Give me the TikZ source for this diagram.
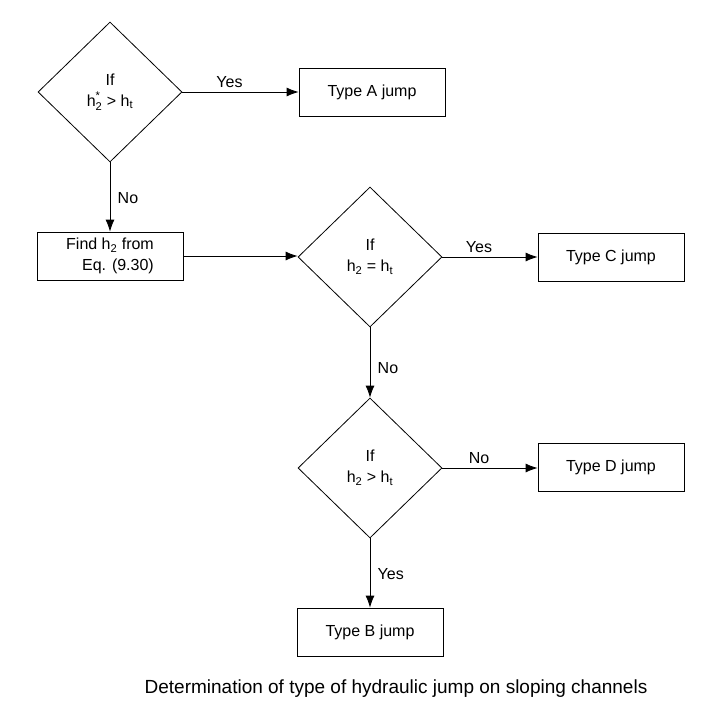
\documentclass[tikz,border=0pt]{standalone}
\usepackage{fontspec}
\usepackage{amsmath}
\setmainfont{Liberation Sans}
\usetikzlibrary{shapes.geometric,arrows.meta}
\newcommand{\lowidx}[1]{$_{\text{#1}}$}
\begin{document}
\begin{tikzpicture}[x=1pt, y=-1pt,
        font=\fontsize{16}{21}\selectfont,
        decision/.style={diamond, draw, line width=0.8pt, minimum width=144pt, minimum height=140pt, inner sep=0pt, align=center},
        result/.style={rectangle, draw, line width=0.8pt, minimum width=146pt, minimum height=48pt, align=center},
        flow/.style={draw, line width=0.8pt, -{Latex[length=12pt,width=9pt]}},
        hlabel/.style={above=1pt, xshift=-11pt}]
        \useasboundingbox (0,0) rectangle (703,707);

        \node[decision] (ask1) at (110, 92) {If\\h$_{\text{2}}^{\text{*}}$ > h\lowidx{t}};
        \node[result] (typeA) at (372, 92) {Type A jump};
        \node[result, align=right] (findh) at (110, 256) {Find h\lowidx{2} from\\Eq. (9.30)};
        \node[decision] (ask2) at (370, 257) {If\\h\lowidx{2} = h\lowidx{t}};
        \node[result] (typeC) at (611, 257) {Type C jump};
        \node[decision] (ask3) at (370, 468) {If\\h\lowidx{2} > h\lowidx{t}};
        \node[result] (typeD) at (611, 467) {Type D jump};
        \node[result] (typeB) at (370, 632) {Type B jump};

        \draw[flow] (ask1.east) -- node[hlabel] {Yes} (typeA.west);
        \draw[flow] (ask1.south) -- node[right=4pt, pos=0.52] {No} (findh.north);
        \draw[flow] (findh.east) -- (findh.east -| ask2.west);
        \draw[flow] (ask2.east) -- node[hlabel] {Yes} (ask2.east -| typeC.west);
        \draw[flow] (ask2.south) -- node[right=4pt, pos=0.58] {No} (ask3.north);
        \draw[flow] (ask3.east) -- node[hlabel] {No} (ask3.east -| typeD.west);
        \draw[flow] (ask3.south) -- node[right=4pt, pos=0.52] {Yes} (typeB.north);

        \node[font=\fontsize{19}{22}\selectfont] (caption) at (396, 689) {Determination of type of hydraulic jump on sloping channels};

    \end{tikzpicture}
\end{document}
